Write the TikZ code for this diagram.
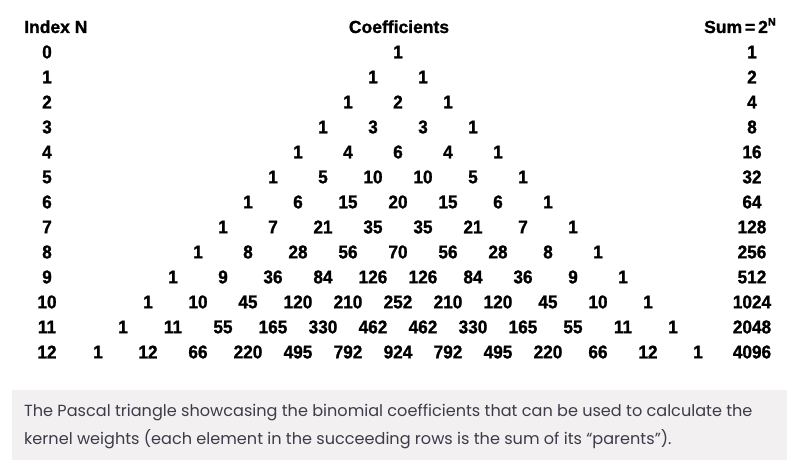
\documentclass[tikz,border=0pt]{standalone}
\usepackage{fontspec}
\setmainfont{Liberation Sans}
\newfontfamily\numfont[FakeStretch=0.93,FakeBold=1.2]{Liberation Sans}
\newfontfamily\headfont[FakeBold=1.2]{Liberation Sans}
\newfontfamily\capfont{Poppins}
\definecolor{capbg}{HTML}{F2F0F0}
\definecolor{captext}{HTML}{3C3C4A}
\begin{document}
\begin{tikzpicture}[x=1pt,y=-1pt,
  num/.style={inner sep=0, font=\numfont\fontsize{18.5}{18.5}\selectfont\bfseries},
  head/.style={inner sep=0, font=\headfont\fontsize{17.5}{17.5}\selectfont\bfseries},
  captxt/.style={inner sep=0, anchor=base west, text=captext, font=\capfont\fontsize{16.1}{16.1}\selectfont}]
\useasboundingbox (0,0) rectangle (801,470);
\fill[white] (0,0) rectangle (801,470);
% headers
\node[head, anchor=base west] (hindex) at (24,33) {Index N};
\node[head, anchor=base] (hcoef) at (399,33) {Coefficients};
\node[head, anchor=base] (hsum) at (740,33) {Sum\,=\,2\raisebox{0.8ex}{\fontsize{11}{11}\selectfont N}};
% rows
\foreach \r/\vals/\s in {
  0/{1}/1,
  1/{1,1}/2,
  2/{1,2,1}/4,
  3/{1,3,3,1}/8,
  4/{1,4,6,4,1}/16,
  5/{1,5,10,10,5,1}/32,
  6/{1,6,15,20,15,6,1}/64,
  7/{1,7,21,35,35,21,7,1}/128,
  8/{1,8,28,56,70,56,28,8,1}/256,
  9/{1,9,36,84,126,126,84,36,9,1}/512,
  10/{1,10,45,120,210,252,210,120,45,10,1}/1024,
  11/{1,11,55,165,330,462,462,330,165,55,11,1}/2048,
  12/{1,12,66,220,495,792,924,792,495,220,66,12,1}/4096}{
  \node[num] (idx-\r) at (47,52+25*\r) {\r};
  \node[num] (sum-\r) at (752,52+25*\r) {\s};
  \foreach \v [count=\k from 0] in \vals {
    \node[num] (c-\r-\k) at (398+50*\k-25*\r,52+25*\r) {\v};
  }
}
% caption
\fill[capbg] (12,390) rectangle (787,460);
\node[captxt] (cap1) at (24,417) {The Pascal triangle showcasing the binomial coefficients that can be used to calculate the};
\node[captxt] (cap2) at (24,444) {kernel weights (each element in the succeeding rows is the sum of its “parents”).};
\end{tikzpicture}
\end{document}
